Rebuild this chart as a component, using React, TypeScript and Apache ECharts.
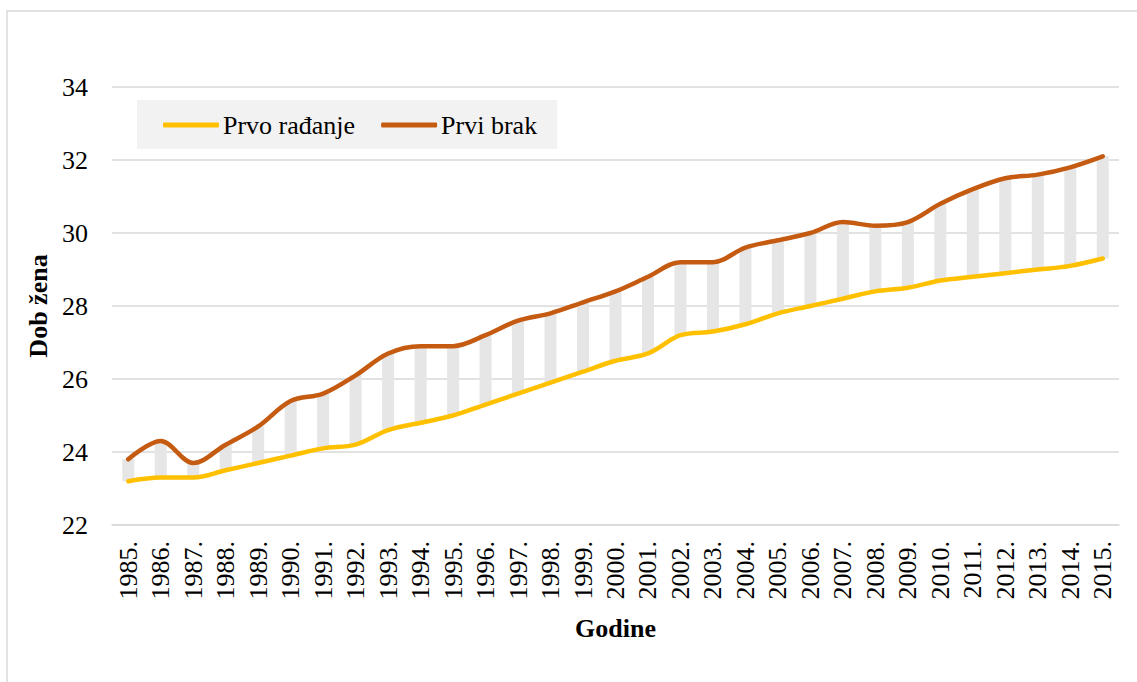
import React, { useEffect, useRef } from "react";
import * as echarts from "echarts";

const years = [
  "1985.", "1986.", "1987.", "1988.", "1989.", "1990.", "1991.", "1992.", "1993.", "1994.",
  "1995.", "1996.", "1997.", "1998.", "1999.", "2000.", "2001.", "2002.", "2003.", "2004.",
  "2005.", "2006.", "2007.", "2008.", "2009.", "2010.", "2011.", "2012.", "2013.", "2014.", "2015.",
];

const prvoRadjanje = [
  23.2, 23.3, 23.3, 23.5, 23.7, 23.9, 24.1, 24.2, 24.6, 24.8,
  25.0, 25.3, 25.6, 25.9, 26.2, 26.5, 26.7, 27.2, 27.3, 27.5,
  27.8, 28.0, 28.2, 28.4, 28.5, 28.7, 28.8, 28.9, 29.0, 29.1, 29.3,
];

const prviBrak = [
  23.8, 24.3, 23.7, 24.2, 24.7, 25.4, 25.6, 26.1, 26.7, 26.9,
  26.9, 27.2, 27.6, 27.8, 28.1, 28.4, 28.8, 29.2, 29.2, 29.6,
  29.8, 30.0, 30.3, 30.2, 30.3, 30.8, 31.2, 31.5, 31.6, 31.8, 32.1,
];

const yMin = 22;
const yMax = 34;
const yInterval = 2;

const FONT = "Times New Roman";

export default function App() {
  const ref = useRef<HTMLDivElement>(null);

  useEffect(() => {
    if (!ref.current) return;
    const chart = echarts.init(ref.current, undefined, { renderer: "svg" });
    const gap = prviBrak.map((v, i) => Math.round((v - prvoRadjanje[i]) * 100) / 100);

    chart.setOption({
      animation: false,
      backgroundColor: "#ffffff",
      textStyle: { fontFamily: FONT },
      graphic: [
        {
          type: "rect",
          shape: { x: 7, y: 11, width: 1200, height: 800 },
          style: { fill: "none", stroke: "#d9d9d9", lineWidth: 1.5 },
          silent: true,
        },
      ],
      grid: { left: 112, right: 18, top: 87, bottom: 157 },
      legend: {
        data: [
          { name: "Prvo rađanje", icon: "roundRect" },
          { name: "Prvi brak", icon: "roundRect" },
        ],
        left: 137,
        top: 100,
        orient: "horizontal",
        backgroundColor: "#f2f2f2",
        padding: [12, 20, 11, 26],
        itemGap: 26,
        itemWidth: 56,
        itemHeight: 5,
        textStyle: { fontFamily: FONT, fontSize: 26, color: "#000", padding: [0, 0, 0, -1] },
        selectedMode: false,
      },
      xAxis: {
        type: "category",
        data: years,
        boundaryGap: true,
        name: "Godine",
        nameLocation: "middle",
        nameGap: 90,
        nameTextStyle: { fontFamily: FONT, fontSize: 26, fontWeight: "bold", color: "#000" },
        axisLine: { show: true, lineStyle: { color: "#d9d9d9", width: 1.5 } },
        axisTick: { show: false },
        axisLabel: { rotate: 90, margin: 16, fontFamily: FONT, fontSize: 26, color: "#000", interval: 0 },
      },
      yAxis: {
        type: "value",
        min: yMin,
        max: yMax,
        interval: yInterval,
        name: "Dob žena",
        nameLocation: "middle",
        nameGap: 60,
        nameRotate: 90,
        nameTextStyle: { fontFamily: FONT, fontSize: 26, fontWeight: "bold", color: "#000" },
        axisLine: { show: false },
        axisTick: { show: false },
        axisLabel: { margin: 24, fontFamily: FONT, fontSize: 26, color: "#000" },
        splitLine: { lineStyle: { color: "#d9d9d9", width: 1.5 } },
      },
      series: [
        {
          name: "base",
          type: "bar",
          stack: "gap",
          data: prvoRadjanje,
          barWidth: 12,
          itemStyle: { color: "rgba(0,0,0,0)" },
          silent: true,
          z: 1,
        },
        {
          name: "razlika",
          type: "bar",
          stack: "gap",
          data: gap,
          barWidth: 12,
          itemStyle: { color: "#e6e6e6" },
          silent: true,
          z: 1,
        },
        {
          name: "Prvo rađanje",
          type: "line",
          data: prvoRadjanje,
          smooth: 0.35,
          showSymbol: false,
          symbol: "none",
          lineStyle: { color: "#ffc000", width: 4.5, cap: "round" },
          itemStyle: { color: "#ffc000" },
          z: 3,
        },
        {
          name: "Prvi brak",
          type: "line",
          data: prviBrak,
          smooth: 0.35,
          showSymbol: false,
          symbol: "none",
          lineStyle: { color: "#c55a11", width: 4.5, cap: "round" },
          itemStyle: { color: "#c55a11" },
          z: 3,
        },
      ],
    });

    return () => chart.dispose();
  }, []);

  return (
    <div
      ref={ref}
      style={{ position: "fixed", left: 0, top: 0, width: 1137, height: 682, background: "#fff" }}
    />
  );
}
